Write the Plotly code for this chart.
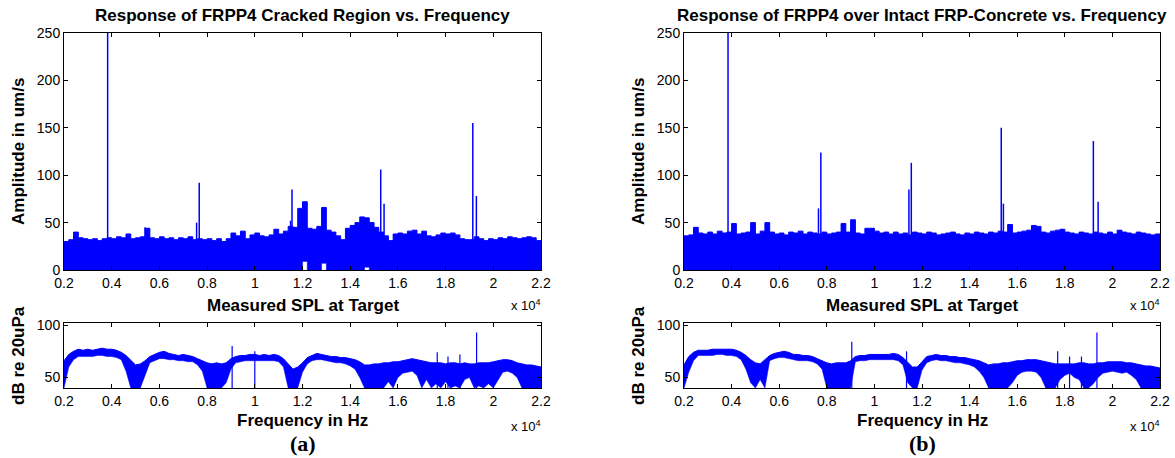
import plotly.graph_objects as go

# ---------------- data (frequency in units of 1e4 Hz) ----------------
freq_e4 = [round(0.20 + 0.02 * i, 2) for i in range(101)]

# (a) cracked region: upper envelope of the dense amplitude spectrum (um/s)
amp_a_upper = [30, 32, 40, 34, 33, 32, 33, 31, 33, 34, 33, 35, 34, 38, 33, 34, 35, 44, 34, 33,
               35, 33, 34, 32, 34, 33, 35, 32, 33, 32, 33, 31, 33, 30, 33, 39, 36, 41, 33, 37,
               39, 36, 35, 37, 43, 38, 41, 46, 45, 65, 72, 44, 43, 46, 66, 42, 40, 36, 32, 44,
               47, 50, 56, 55, 50, 45, 40, 36, 31, 38, 39, 38, 41, 42, 38, 41, 36, 35, 37, 39,
               38, 39, 37, 33, 32, 32, 35, 33, 31, 33, 32, 34, 33, 35, 34, 33, 34, 35, 34, 31, 28]
amp_a_lower = [0] * 50 + [9] + [0] * 3 + [7] + [0] * 8 + [3] + [0] * 37
# (a) discrete peaks
peak_a_freq = [0.383, 0.54, 0.756, 0.767, 1.15, 1.156, 1.528, 1.542, 1.914, 1.929]
peak_a_amp = [260, 45, 50, 92, 52, 85, 106, 70, 155, 78]

# (b) intact FRP-concrete
amp_b_upper = [36, 37, 45, 39, 38, 40, 38, 41, 39, 40, 49, 38, 39, 40, 50, 38, 41, 50, 40, 38,
               39, 37, 40, 39, 41, 38, 40, 39, 38, 40, 38, 39, 40, 49, 40, 53, 39, 38, 44, 44,
               41, 39, 40, 38, 40, 38, 39, 37, 40, 39, 38, 40, 39, 37, 38, 39, 40, 38, 37, 39,
               38, 40, 39, 38, 40, 39, 41, 40, 48, 39, 40, 41, 42, 47, 46, 40, 39, 41, 42, 43,
               40, 39, 38, 40, 39, 38, 40, 39, 38, 40, 38, 42, 40, 39, 38, 40, 39, 38, 37, 38, 35]
amp_b_lower = [0] * 101
peak_b_freq = [0.385, 0.765, 0.775, 1.145, 1.155, 1.533, 1.542, 1.57, 1.92, 1.94]
peak_b_amp = [260, 65, 124, 85, 113, 150, 70, 48, 136, 72]

# Measured SPL (dB re 20 uPa): upper / lower envelopes
spl_a_upper = [66, 72, 75, 77, 76, 77, 76, 77, 78, 77, 77, 76, 74, 71, 66, 62, 63, 66, 70, 72,
               74, 75, 73, 72, 71, 72, 71, 70, 68, 66, 64, 63, 64, 63, 64, 68, 70, 71, 71, 72,
               72, 71, 72, 71, 72, 71, 68, 63, 58, 60, 64, 69, 71, 73, 72, 71, 70, 70, 69, 69,
               68, 67, 65, 62, 62, 63, 63, 64, 64, 65, 65, 66, 67, 68, 67, 66, 65, 64, 64, 64,
               63, 64, 64, 63, 64, 63, 63, 64, 64, 64, 65, 66, 67, 67, 66, 64, 63, 62, 62, 61, 60]
spl_a_lower = [40, 60, 67, 70, 70, 70, 70, 71, 71, 70, 70, 69, 67, 56, 40, 40, 40, 52, 64, 66,
               68, 68, 67, 67, 66, 66, 65, 65, 62, 56, 40, 40, 40, 40, 45, 58, 64, 65, 66, 66,
               66, 66, 66, 66, 66, 65, 60, 40, 40, 40, 55, 63, 66, 67, 67, 66, 65, 64, 64, 63,
               61, 58, 50, 40, 40, 40, 40, 40, 46, 40, 50, 54, 55, 56, 52, 40, 48, 40, 44, 40,
               46, 40, 42, 40, 48, 50, 40, 42, 40, 44, 40, 48, 55, 56, 54, 50, 40, 40, 40, 40, 40]
spl_a_peak_freq = [0.905, 1.0, 1.765, 1.81, 1.86, 1.93]
spl_a_peak_db = [80, 75, 74, 70, 72, 93]

spl_b_upper = [62, 70, 74, 76, 76, 76, 77, 77, 77, 77, 77, 76, 74, 71, 67, 64, 63, 67, 71, 73,
               74, 75, 74, 72, 72, 71, 71, 70, 68, 66, 64, 63, 64, 64, 64, 66, 70, 71, 71, 72,
               72, 72, 72, 72, 73, 72, 69, 64, 60, 60, 65, 70, 71, 72, 71, 71, 70, 70, 69, 69,
               68, 67, 66, 64, 62, 63, 63, 64, 64, 65, 66, 66, 67, 67, 67, 66, 65, 64, 63, 63,
               63, 63, 63, 64, 64, 63, 63, 64, 64, 65, 65, 65, 65, 64, 64, 63, 62, 61, 61, 60, 59]
spl_b_lower = [40, 55, 66, 71, 71, 71, 71, 72, 72, 71, 71, 70, 67, 58, 45, 40, 48, 40, 66, 68,
               69, 69, 68, 67, 66, 66, 66, 65, 63, 58, 40, 40, 40, 40, 40, 40, 65, 66, 66, 67,
               67, 67, 67, 67, 67, 66, 62, 45, 40, 40, 57, 64, 66, 67, 66, 66, 65, 64, 64, 63,
               62, 60, 56, 50, 40, 40, 40, 40, 40, 45, 52, 55, 56, 56, 55, 50, 40, 40, 40, 48,
               52, 54, 50, 48, 40, 40, 44, 50, 54, 55, 56, 55, 54, 55, 52, 48, 40, 40, 40, 40, 40]
spl_b_peak_freq = [0.905, 1.135, 1.77, 1.82, 1.87, 1.935]
spl_b_peak_db = [84, 75, 75, 70, 70, 93]

x_tick_vals = [0.2, 0.4, 0.6, 0.8, 1.0, 1.2, 1.4, 1.6, 1.8, 2.0, 2.2]
x_tick_text = ["0.2", "0.4", "0.6", "0.8", "1", "1.2", "1.4", "1.6", "1.8", "2", "2.2"]

# ---------------- figure ----------------
W, H = 1175, 458
BLUE = "#0000FF"
FONT = "Liberation Sans, Arial, sans-serif"

fig = go.Figure()
hz = lambda arr: [v * 1e4 for v in arr]


def add_band(lower, upper, xa, ya, shape):
    fig.add_trace(go.Scatter(x=hz(freq_e4), y=lower, mode="lines", line=dict(color=BLUE, width=0.5, shape=shape),
                             xaxis=xa, yaxis=ya, showlegend=False, hoverinfo="skip"))
    fig.add_trace(go.Scatter(x=hz(freq_e4), y=upper, mode="lines", fill="tonexty", fillcolor=BLUE,
                             line=dict(color=BLUE, width=1, shape=shape),
                             xaxis=xa, yaxis=ya, showlegend=False, hoverinfo="skip"))


def add_spikes(freqs, peaks, base, xa, ya, w=1.5):
    xs, ys = [], []
    for f, p in zip(freqs, peaks):
        xs += [f * 1e4, f * 1e4, None]
        ys += [base, p, None]
    fig.add_trace(go.Scatter(x=xs, y=ys, mode="lines", line=dict(color=BLUE, width=w),
                             xaxis=xa, yaxis=ya, showlegend=False, hoverinfo="skip"))


add_band(amp_a_lower, amp_a_upper, "x", "y", "hv")
add_spikes(peak_a_freq, peak_a_amp, 0, "x", "y")
add_band(spl_a_lower, spl_a_upper, "x2", "y2", "linear")
add_spikes(spl_a_peak_freq, spl_a_peak_db, 40, "x2", "y2", 1.2)
add_band(amp_b_lower, amp_b_upper, "x3", "y3", "hv")
add_spikes(peak_b_freq, peak_b_amp, 0, "x3", "y3")
add_band(spl_b_lower, spl_b_upper, "x4", "y4", "linear")
add_spikes(spl_b_peak_freq, spl_b_peak_db, 40, "x4", "y4", 1.2)

px_x = lambda p: p / W
px_y = lambda p: 1 - p / H

left_dom = [px_x(64), px_x(541)]
right_dom = [px_x(684), px_x(1160)]
top_dom = [px_y(270), px_y(33)]
bot_dom = [px_y(388), px_y(323)]

axcommon = dict(showline=True, linecolor="black", linewidth=1, mirror="ticks", ticks="inside",
                ticklen=4, tickcolor="black", showgrid=False, zeroline=False, automargin=False,
                tickfont=dict(family=FONT, size=14, color="black"))
xcommon = dict(axcommon, range=[2000, 22000], tickvals=hz(x_tick_vals), ticktext=x_tick_text)

fig.update_layout(
    template="none",
    width=W, height=H, margin=dict(l=0, r=0, t=0, b=0, pad=0, autoexpand=False),
    paper_bgcolor="white", plot_bgcolor="white",
    xaxis=dict(xcommon, domain=left_dom, anchor="y"),
    yaxis=dict(axcommon, domain=top_dom, anchor="x", range=[0, 250], tickvals=[0, 50, 100, 150, 200, 250]),
    xaxis2=dict(xcommon, domain=left_dom, anchor="y2"),
    yaxis2=dict(axcommon, domain=bot_dom, anchor="x2", range=[40, 102], tickvals=[50, 100]),
    xaxis3=dict(xcommon, domain=right_dom, anchor="y3"),
    yaxis3=dict(axcommon, domain=top_dom, anchor="x3", range=[0, 250], tickvals=[0, 50, 100, 150, 200, 250]),
    xaxis4=dict(xcommon, domain=right_dom, anchor="y4"),
    yaxis4=dict(axcommon, domain=bot_dom, anchor="x4", range=[40, 102], tickvals=[50, 100]),
)

bold = dict(family=FONT, size=17, color="black")


def ann(text, x, y, font, angle=0, xanchor="center"):
    fig.add_annotation(text=text, x=px_x(x), y=px_y(y), xref="paper", yref="paper", showarrow=False,
                       font=font, textangle=angle, xanchor=xanchor, yanchor="middle")


for cx, title, lab, ylx in [(302.5, "Response of FRPP4 Cracked Region vs. Frequency", "(a)", 18),
                            (922, "Response of FRPP4 over Intact FRP-Concrete vs. Frequency", "(b)", 638)]:
    ann("<b>" + title + "</b>", cx, 15, bold)
    ann("<b>Measured SPL at Target</b>", cx, 305, bold)
    ann("<b>Frequency in Hz</b>", cx, 420, bold)
    ann("<b>" + lab + "</b>", cx, 443, dict(family="Liberation Serif, Times New Roman, serif", size=22, color="black"))
    ann("<b>Amplitude in um/s</b>", ylx, 152, bold, angle=-90)
    ann("<b>dB re 20uPa</b>", ylx, 356, bold, angle=-90)

for rx in [541, 1160]:
    for yy in [305, 426]:
        ann("x 10<sup>4</sup>", rx + 2, yy, dict(family=FONT, size=13, color="black"), xanchor="right")

fig.write_html("out.html", config={"displayModeBar": False},
               post_script="document.body.style.margin='0px';document.body.style.overflow='hidden';")
